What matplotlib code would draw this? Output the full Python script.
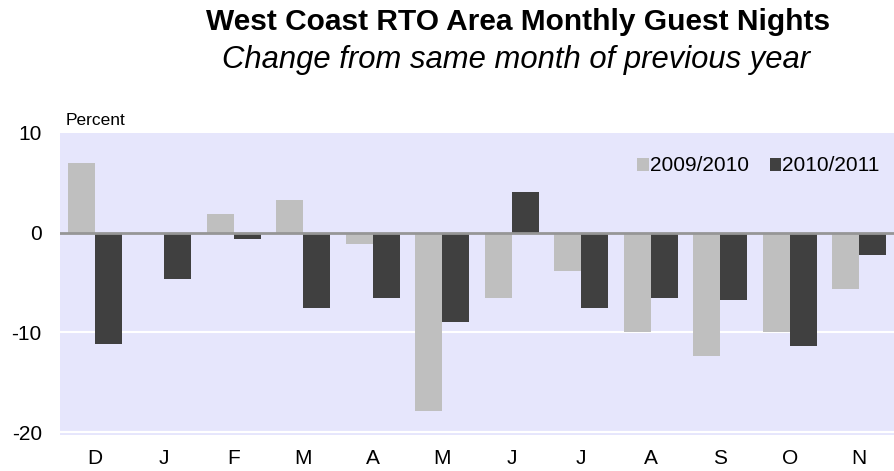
import matplotlib.pyplot as plt
import numpy as np

plt.rcParams['font.family'] = ['Liberation Sans', 'DejaVu Sans']

months = ['D', 'J', 'F', 'M', 'A', 'M', 'J', 'J', 'A', 'S', 'O', 'N']
y0910 = [7.0, 0.0, 1.9, 3.3, -1.1, -17.9, -6.6, -3.8, -10.0, -12.4, -10.0, -5.6]
y1011 = [-11.2, -4.6, -0.6, -7.6, -6.6, -9.0, 4.1, -7.6, -6.6, -6.8, -11.4, -2.2]

light = '#bfbfbf'
dark = '#404040'

fig = plt.figure(figsize=(8.94, 4.71), dpi=100)
ax = fig.add_axes([0.067, 0.076, 0.933, 0.642])
ax.set_facecolor('#e6e6fc')

x = np.arange(len(months))
w = 0.39
ax.bar(x - w/2, y0910, w, color=light, label='2009/2010', zorder=2)
ax.bar(x + w/2, y1011, w, color=dark, label='2010/2011', zorder=2)

ax.set_xlim(-0.5, 11.5)
ax.set_ylim(-20.3, 10)
ax.set_yticks([-20, -10, 0, 10])
ax.set_yticklabels(['-20', '-10', '0', '10'], fontsize=15)
ax.set_xticks(x)
ax.set_xticklabels(months, fontsize=15)
ax.tick_params(length=0)
ax.tick_params(axis='x', pad=10)
ax.tick_params(axis='y', pad=13)
for yy in [-20, -10]:
    ax.axhline(yy, color='white', lw=1.5, zorder=1)
ax.axhline(0, color='#969696', lw=2, zorder=3)
for s in ax.spines.values():
    s.set_visible(False)

ax.text(0.007, 1.015, 'Percent', transform=ax.transAxes, fontsize=12.5, ha='left', va='bottom')

leg = ax.legend(loc='upper right', ncol=2, frameon=False, fontsize=15,
                handlelength=0.55, handleheight=0.6, handletextpad=0.05,
                columnspacing=1.0, borderaxespad=0.3, bbox_to_anchor=(1.0, 0.97))

fig.text(0.579, 0.954, 'West Coast RTO Area Monthly Guest Nights', fontsize=21.5,
         fontweight='bold', ha='center', va='center')
fig.text(0.577, 0.872, 'Change from same month of previous year', fontsize=22.3,
         fontstyle='italic', ha='center', va='center')

fig.savefig('out.png', dpi=100)
